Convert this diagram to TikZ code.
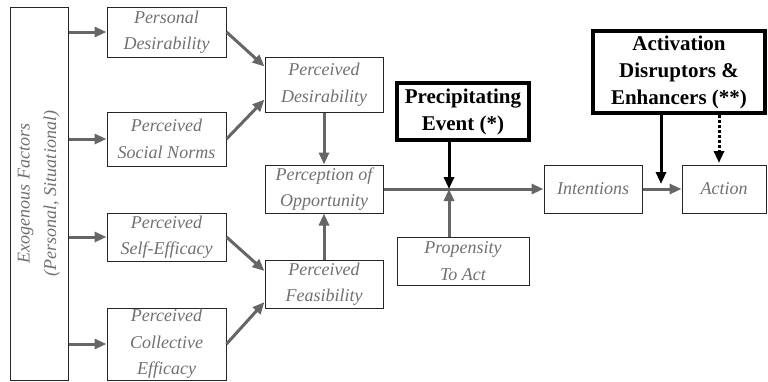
\documentclass[tikz,border=0pt]{standalone}
\usepackage{fontspec}
\setmainfont{Liberation Serif}
\usepackage{tikz}
\usetikzlibrary{arrows.meta}

\definecolor{txtgray}{HTML}{707070}
\definecolor{arrgray}{HTML}{666666}
\tikzset{
  factor/.style={draw=black!85, line width=1pt, align=center, inner sep=0pt,
    text=txtgray, font=\fontsize{18}{26.5}\selectfont\itshape},
  trigger/.style={draw=black, line width=4.5pt, align=center, inner sep=0pt,
    font=\fontsize{21}{27}\selectfont\bfseries},
  arr/.style={draw=arrgray, line width=3pt, -{Triangle[length=12pt,width=10pt]}},
  blackarr/.style={draw=black, line width=3pt, -{Triangle[length=12pt,width=10pt]}}
}

\begin{document}
\begin{tikzpicture}[x=1pt, y=-1pt]
  \useasboundingbox (0,0) rectangle (768,381);
  % outer factors
  \node[factor, rotate=90, minimum width=373pt, minimum height=58pt] (exo) at (39,193.5)
    {Exogenous Factors\\(Personal, Situational)};
  \node[factor, minimum width=119pt, minimum height=50pt] (persDes) at (166.5,32)
    {Personal\\Desirability};
  \node[factor, minimum width=119pt, minimum height=54pt] (socNorms) at (166.5,139)
    {Perceived\\Social Norms};
  \node[factor, minimum width=119pt, minimum height=48pt] (selfEff) at (166.5,237)
    {Perceived\\Self-Efficacy};
  \node[factor, minimum width=119pt, minimum height=72pt] (collEff) at (166.5,344)
    {Perceived\\Collective\\Efficacy};
  % perceptions
  \node[factor, minimum width=118pt, minimum height=55pt] (percDes) at (324,84.5)
    {Perceived\\Desirability};
  \node[factor, minimum width=118pt, minimum height=48pt] (percOpp) at (324,189)
    {Perception of\\Opportunity};
  \node[factor, minimum width=118pt, minimum height=48pt] (percFeas) at (324,284)
    {Perceived\\Feasibility};
  \node[trigger, minimum width=132pt, minimum height=57pt] (precEvent) at (463,111.5)
    {Precipitating\\Event (*)};
  \node[factor, minimum width=132pt, minimum height=48pt] (propensity) at (463,261)
    {Propensity\\To Act};
  \node[factor, minimum width=98pt, minimum height=48pt] (intentions) at (593,189)
    {Intentions};
  \node[factor, minimum width=84pt, minimum height=48pt] (action) at (724,189)
    {Action};
  \node[trigger, minimum width=172pt, minimum height=82pt] (activation) at (679,72)
    {Activation\\Disruptors \&\\Enhancers (**)};
  \coordinate (eventJoin) at (449,189);
  \coordinate (actJoin) at (661,184);
  \coordinate (dotJoin) at (719,163);

  % exogenous factors to the four inputs
  \draw[arr] (exo.south |- persDes) -- (persDes);
  \draw[arr] (exo.south |- socNorms) -- (socNorms);
  \draw[arr] (exo.south |- selfEff) -- (selfEff);
  \draw[arr] (exo.south |- collEff) -- (collEff);
  \draw[arr] (persDes.east) -- ([yshift=18pt]percDes.west);
  \draw[arr] (socNorms.east) -- ([yshift=-15pt]percDes.west);
  \draw[arr] (selfEff.east) -- ([yshift=13pt]percFeas.west);
  \draw[arr] (collEff.east) -- ([yshift=-18pt]percFeas.west);
  \draw[arr] (percDes) -- (percOpp);
  \draw[arr] (percFeas) -- (percOpp);
  \draw[arr] (percOpp) -- (intentions);
  \draw[arr] (intentions) -- (action);
  % triggers
  \draw[blackarr] (precEvent.south -| eventJoin) -- (eventJoin);
  \draw[arr] (propensity.north -| eventJoin) -- (eventJoin);
  \draw[blackarr] (activation.south -| actJoin) -- (actJoin);
  \draw[blackarr, dotted] (activation.south -| dotJoin) -- (dotJoin);
\end{tikzpicture}
\end{document}
